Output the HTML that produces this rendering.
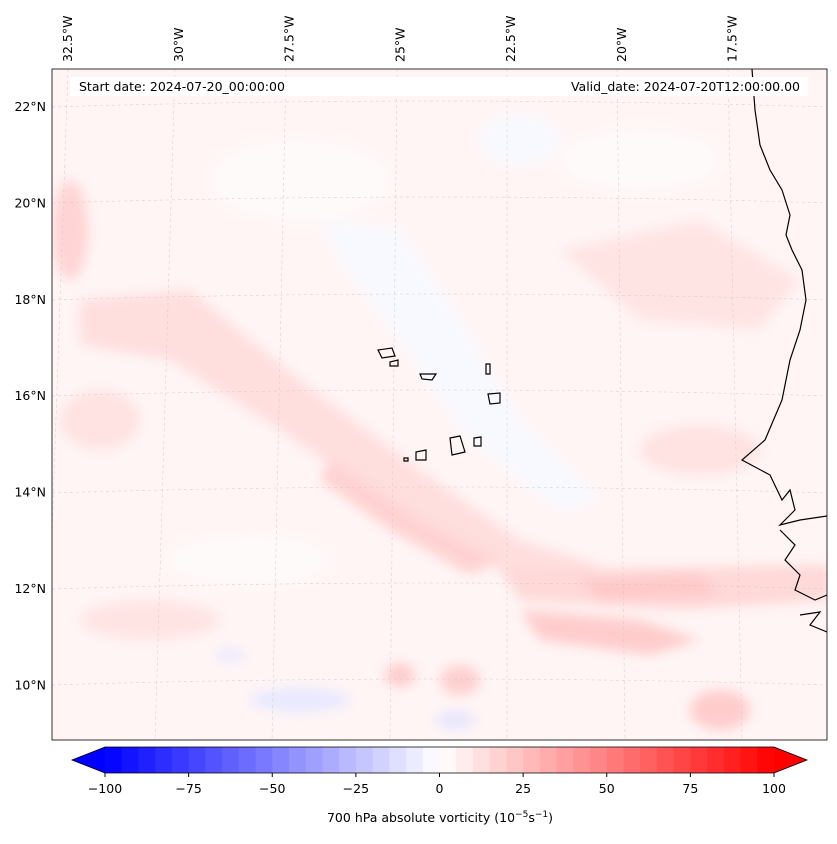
<!DOCTYPE html>
<html><head><meta charset="utf-8"><style>
body{margin:0;background:#fff;font-family:"Liberation Sans","DejaVu Sans",sans-serif;}
svg text{font-family:"DejaVu Sans","Liberation Sans",sans-serif;font-size:12.5px;fill:#000;}
</style></head><body>
<svg id="fig" width="837" height="839" viewBox="0 0 837 839">
<defs>
<filter id="blur" x="-20%" y="-20%" width="140%" height="140%"><feGaussianBlur stdDeviation="6"/></filter>
<clipPath id="mapclip"><rect x="52" y="69" width="775" height="671"/></clipPath>
</defs>
<g clip-path="url(#mapclip)">
<rect x="52" y="69" width="775" height="671" fill="#fff5f5"/>
<g filter="url(#blur)">
<ellipse cx="300" cy="180" rx="90" ry="40" fill="#fffafa"/>
<ellipse cx="640" cy="160" rx="80" ry="30" fill="#fffafa"/>
<ellipse cx="250" cy="560" rx="80" ry="25" fill="#fffafa"/>
<path d="M80 300 L190 290 L300 380 L420 470 L520 540 L600 565 L560 590 L470 560 L380 500 L280 430 L170 360 L80 345 Z" fill="#ffdede"/>
<path d="M330 460 L420 520 L500 560 L470 575 L390 530 L320 480 Z" fill="#ffd2d2"/>
<path d="M500 570 L830 565 L830 600 L680 610 L520 600 Z" fill="#ffd8d8"/>
<path d="M520 610 L640 620 L700 640 L650 655 L540 640 Z" fill="#ffcccc"/>
<path d="M580 580 L700 575 L720 595 L600 600 Z" fill="#ffc8c8"/>
<ellipse cx="70" cy="230" rx="18" ry="50" fill="#ffd4d4"/>
<ellipse cx="100" cy="420" rx="40" ry="30" fill="#ffe2e2"/>
<ellipse cx="720" cy="710" rx="30" ry="20" fill="#ffcccc"/>
<ellipse cx="460" cy="680" rx="20" ry="15" fill="#ffcfcf"/>
<ellipse cx="400" cy="675" rx="15" ry="12" fill="#ffcccc"/>
<ellipse cx="300" cy="700" rx="50" ry="12" fill="#e8e8ff"/>
<ellipse cx="455" cy="720" rx="20" ry="8" fill="#e4e4ff"/>
<ellipse cx="230" cy="655" rx="15" ry="6" fill="#e8e8ff"/>
<path d="M320 220 L400 230 L460 320 L520 420 L600 500 L560 510 L470 440 L400 340 L340 260 Z" fill="#f8f9ff"/>
<ellipse cx="520" cy="140" rx="40" ry="25" fill="#f8f9ff"/>
<path d="M560 250 L700 220 L800 280 L760 330 L640 320 Z" fill="#ffe4e4"/>
<ellipse cx="700" cy="450" rx="60" ry="25" fill="#ffe2e2"/>
<ellipse cx="150" cy="620" rx="70" ry="20" fill="#ffe4e4"/>
</g>
<g stroke="#ccc" stroke-width="0.5" stroke-dasharray="3,3" fill="none">
<path d="M52 107 Q440 95 827 107"/><path d="M52 203 Q440 191 827 203"/><path d="M52 300 Q440 288 827 300"/><path d="M52 396 Q440 384 827 396"/><path d="M52 493 Q440 481 827 493"/><path d="M52 589 Q440 577 827 589"/><path d="M52 685 Q440 673 827 685"/>
<path d="M68 69 L45 740"/><path d="M175 69 L155 740"/><path d="M286 69 L272 740"/><path d="M397 69 L390 740"/><path d="M507 69 L507 740"/><path d="M617 69 L625 740"/><path d="M728 69 L742 740"/>
</g>
<g stroke="#000" stroke-width="1.2" fill="none">
<path d="M752 69 L755 110 L760 145 L770 170 L782 190 L790 215 L786 235 L792 250 L802 270 L806 300 L800 330 L790 360 L782 400 L765 440 L742 460 L770 475 L782 500 L790 490 L795 510 L780 525 L800 520 L827 516"/>
<path d="M780 530 L795 545 L785 560 L800 575 L795 590 L815 600 L827 595"/>
<path d="M800 615 L820 612 L810 625 L827 632"/>
<path d="M378 350 L392 348 L395 356 L382 358 Z"/><path d="M390 362 L398 360 L398 366 L390 366 Z"/><path d="M420 374 L436 374 L432 380 L422 379 Z"/><path d="M486 364 L490 364 L490 374 L486 374 Z"/><path d="M488 394 L500 393 L500 403 L490 404 Z"/><path d="M450 438 L460 436 L465 452 L452 455 Z"/><path d="M474 438 L481 437 L481 446 L474 446 Z"/><path d="M416 452 L426 450 L426 460 L416 460 Z"/><path d="M404 458 L408 458 L408 461 L404 461 Z"/>
</g>
<rect x="70" y="77" width="738" height="19" fill="#fff"/>
<text x="79" y="91">Start date: 2024-07-20_00:00:00</text>
<text x="800" y="91" text-anchor="end">Valid_date: 2024-07-20T12:00:00.00</text>
</g>
<rect x="52" y="69" width="775" height="671" fill="none" stroke="#000" stroke-width="0.8"/>
<g id="latlabels"></g>
<g id="lonlabels"></g>
<g id="cbar"></g>
<text x="440" y="822" text-anchor="middle">700 hPa absolute vorticity (10<tspan dy="-5" font-size="9">−5</tspan><tspan dy="5">s</tspan><tspan dy="-5" font-size="9">−1</tspan><tspan dy="5">)</tspan></text>
</svg>
<script>
const latTicks=[22,20,18,16,14,12,10];
const lonTicks=[32.5,30,27.5,25,22.5,20,17.5];
const cbTicks=[-100,-75,-50,-25,0,25,50,75,100];
const cbLevels=[];for(let v=-100;v<100;v+=5)cbLevels.push(v);
const NS="http://www.w3.org/2000/svg";
function mk(t,a,p){const e=document.createElementNS(NS,t);for(const k in a)e.setAttribute(k,a[k]);p.appendChild(e);return e;}
const latY=v=>107+(22-v)*48.2;
const lonX=v=>68+(32.5-v)*44.3;
const cbX=v=>105+(v+100)*(774-105)/200;
function bwr(v){const t=(v+100)/200;let r,g,b;if(t<0.5){const s=t/0.5;r=Math.round(255*s);g=r;b=255;}else{const s=(t-0.5)/0.5;r=255;g=Math.round(255*(1-s));b=g;}return `rgb(${r},${g},${b})`;}
const lat=document.getElementById('latlabels');
latTicks.forEach(v=>{const t=mk('text',{x:46,y:latY(v)+4,'text-anchor':'end'},lat);t.textContent=v+'°N';

});
const lon=document.getElementById('lonlabels');
lonTicks.forEach(v=>{const x=lonX(v);const t=mk('text',{x:x+4,y:62,transform:`rotate(-90 ${x+4} 62)`},lon);t.textContent=v+'°W';

});
const cb=document.getElementById('cbar');
mk('path',{d:`M105 747 L72 760 L105 773 Z`,fill:bwr(-100)},cb);
mk('path',{d:`M774 747 L807 760 L774 773 Z`,fill:bwr(100)},cb);
cbLevels.forEach(v=>{const r=mk('rect',{x:cbX(v),y:747,width:cbX(v+5)-cbX(v)+0.5,height:26,fill:bwr(v+2.5)},cb);

});
mk('path',{d:'M105 747 L774 747 L807 760 L774 773 L105 773 L72 760 Z',fill:'none',stroke:'#000','stroke-width':0.8},cb);
cbTicks.forEach(v=>{const x=cbX(v);mk('line',{x1:x,y1:773,x2:x,y2:777,stroke:'#000'},cb);
const t=mk('text',{x:x,y:793,'text-anchor':'middle'},cb);t.textContent=(v<0?'−'+(-v):v);

});
</script>
</body></html>
